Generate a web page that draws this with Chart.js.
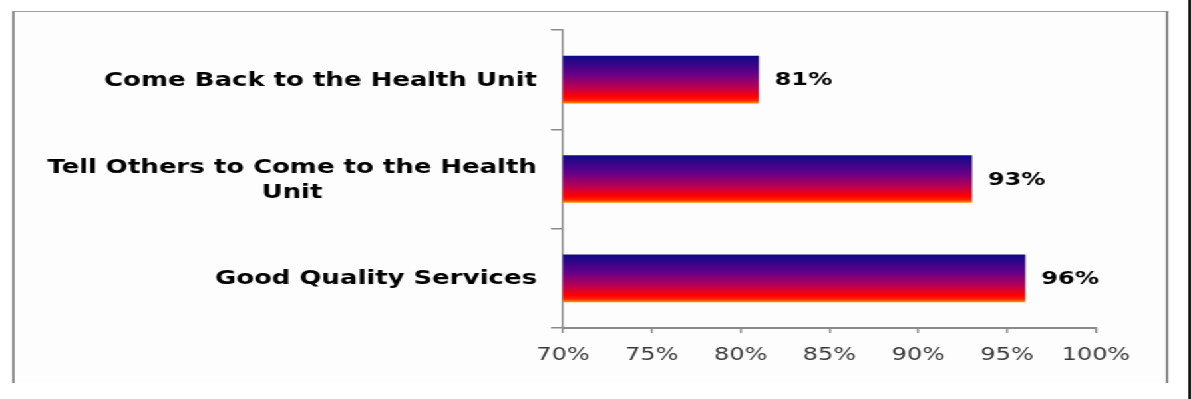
<!DOCTYPE html>
<html>
<head>
<meta charset="utf-8">
<script src="https://cdn.jsdelivr.net/npm/chart.js@4.4.1/dist/chart.umd.min.js"></script>
<style>
  html, body { margin: 0; padding: 0; background: #fff; }
  body { width: 1191px; height: 399px; overflow: hidden; position: relative; }
  /* chart is laid out 895px wide, then widened to the full page */
  #stage { position: absolute; left: 0; top: 0; width: 895px; height: 399px; transform: scaleX(1.33073); transform-origin: 0 0; }
  #frame { position: absolute; left: 9px; top: 11px; width: 869px; height: 372px; box-sizing: border-box; background: #fdfdfd; border-top: 1px solid #a0a0a0; border-left: 2px solid #8a8a8a; border-right: 2px solid #8a8a8a; }
  #edge { position: absolute; left: 893px; top: 0; width: 2px; height: 399px; background: #000; }
  #wrap { position: absolute; left: 0; top: 0; width: 895px; height: 399px; }
</style>
</head>
<body>
<div id="stage">
  <div id="frame"></div>
  <div id="edge"></div>
  <div id="wrap"><canvas id="chart"></canvas></div>
</div>
<script>
const categories = [
  ['Come Back to the Health Unit'],
  ['Tell Others to Come to the Health', 'Unit'],
  ['Good Quality Services']
];
const percentages = [81, 93, 96];
const xTicks = [70, 75, 80, 85, 90, 95, 100];

const BAR_THICKNESS = 47;
const AXIS_GRAY = '#8a8a8a';

// vertical navy -> purple -> red -> orange fill, one gradient per bar
function barFill(context) {
  const chart = context.chart;
  if (!chart.chartArea || context.dataIndex === undefined) return '#800080';
  const yc = chart.scales.y.getPixelForValue(context.dataIndex);
  const half = BAR_THICKNESS / 2;
  const g = chart.ctx.createLinearGradient(0, yc - half, 0, yc + half);
  g.addColorStop(0, '#100a88');
  g.addColorStop(0.38, '#660088');
  g.addColorStop(0.68, '#c0004e');
  g.addColorStop(0.86, '#ff0000');
  g.addColorStop(0.94, '#ff2200');
  g.addColorStop(1, '#ff8c00');
  return g;
}

// category names: block right-aligned against the axis, lines centred in the block
const categoryLabels = {
  id: 'categoryLabels',
  afterDraw(chart) {
    const { ctx } = chart;
    const y = chart.scales.y;
    const right = 403.5;
    const lineH = 25;
    ctx.save();
    ctx.font = 'bold 19.5px "DejaVu Sans"';
    ctx.fillStyle = '#000';
    ctx.textBaseline = 'middle';
    ctx.textAlign = 'center';
    chart.data.labels.forEach((lines, i) => {
      const widest = Math.max(...lines.map(l => ctx.measureText(l).width));
      const cx = right - widest / 2;
      const yc = y.getPixelForValue(i) + 1;
      lines.forEach((line, j) => {
        ctx.fillText(line, cx, yc + (j - (lines.length - 1) / 2) * lineH);
      });
    });
    ctx.restore();
  }
};

// value labels just past the end of each bar
const valueLabels = {
  id: 'valueLabels',
  afterDatasetsDraw(chart) {
    const { ctx } = chart;
    const meta = chart.getDatasetMeta(0);
    ctx.save();
    ctx.font = 'bold 18px "DejaVu Sans"';
    ctx.fillStyle = '#000';
    ctx.textBaseline = 'middle';
    ctx.textAlign = 'left';
    meta.data.forEach((bar, i) => {
      ctx.fillText(chart.data.datasets[0].data[i] + '%', bar.x + 12.4, bar.y + 1);
    });
    ctx.restore();
  }
};

new Chart(document.getElementById('chart').getContext('2d'), {
  type: 'bar',
  data: {
    labels: categories,
    datasets: [{
      data: percentages,
      backgroundColor: barFill,
      borderWidth: 0,
      barThickness: BAR_THICKNESS
    }]
  },
  options: {
    indexAxis: 'y',
    responsive: true,
    maintainAspectRatio: false,
    animation: false,
    events: [],
    layout: {
      padding: { top: 30, right: 71.4, bottom: 0, left: 0 }
    },
    scales: {
      x: {
        type: 'linear',
        min: xTicks[0],
        max: xTicks[xTicks.length - 1],
        afterFit: (scale) => { scale.height = 71; },
        grid: {
          drawOnChartArea: false,
          drawTicks: true,
          tickLength: 5,
          color: AXIS_GRAY,
          lineWidth: 1.5
        },
        border: { color: AXIS_GRAY, width: 2 },
        ticks: {
          stepSize: xTicks[1] - xTicks[0],
          maxRotation: 0,
          autoSkip: false,
          padding: 12,
          color: '#383838',
          font: { family: 'DejaVu Sans', size: 18 },
          callback: (v) => v + '%'
        }
      },
      y: {
        type: 'category',
        afterFit: (scale) => { scale.width = 423.1; },
        grid: {
          drawOnChartArea: false,
          drawTicks: true,
          tickLength: 9,
          color: AXIS_GRAY,
          lineWidth: 1.5
        },
        border: { color: AXIS_GRAY, width: 1.5 },
        ticks: { display: false }
      }
    },
    plugins: {
      legend: { display: false },
      tooltip: { enabled: false }
    }
  },
  plugins: [categoryLabels, valueLabels]
});
</script>
</body>
</html>
